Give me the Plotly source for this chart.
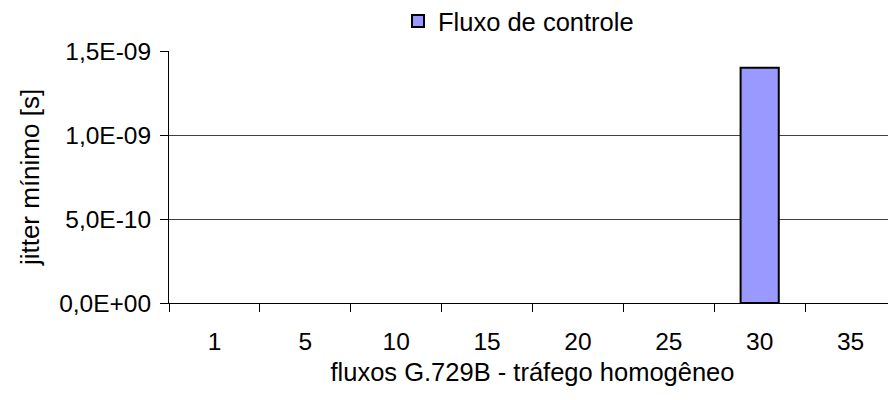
import plotly.graph_objects as go

# data
categories = ["1", "5", "10", "15", "20", "25", "30", "35"]
jitter_min = [0, 0, 0, 0, 0, 0, 1.4e-9, 0]
y_tickvals = [0, 5e-10, 1e-9, 1.5e-9]
y_ticktext = ["0,0E+00", "5,0E-10", "1,0E-09", "1,5E-09"]

FONT = "Liberation Sans, Arial, sans-serif"

# the page body has an 8px margin, so the figure is drawn 8px in from the corner
W, H = 888, 384

fig = go.Figure()
fig.add_trace(go.Bar(
    x=categories,
    # empty categories show nothing in the original, not even an outline
    y=[v if v else None for v in jitter_min],
    name="Fluxo de controle",
    marker=dict(color="#9999FF", line=dict(color="#000000", width=2)),
    width=0.42,
))

fig.update_layout(
    width=W,
    height=H,
    plot_bgcolor="white",
    paper_bgcolor="white",
    font=dict(family=FONT, size=25, color="#000000"),
    margin=dict(l=161, r=0, t=43, b=89),
    showlegend=True,
    legend=dict(
        orientation="h",
        x=390 / W, xref="container", xanchor="left",
        y=1 - 13.5 / H, yref="container", yanchor="middle",
        font=dict(size=25.5),
        itemwidth=30,
    ),
    xaxis=dict(
        type="category",
        range=[-0.5, 7.5],
        automargin=False,
        showline=True, linecolor="#000000", linewidth=1,
        ticks="outside", tickson="boundaries", ticklen=8,
        tickcolor="#000000",
        ticklabelstandoff=17,
        tickfont=dict(size=24.5),
        showgrid=False,
        title=dict(text="fluxos G.729B - tráfego homogêneo", font=dict(size=25.5), standoff=8),
    ),
    yaxis=dict(
        range=[0, 1.5e-9],
        automargin=False,
        tickvals=y_tickvals,
        ticktext=y_ticktext,
        showline=True, linecolor="#000000", linewidth=1,
        ticks="outside", ticklen=8, tickcolor="#000000",
        ticklabelstandoff=4,
        tickfont=dict(size=24.5),
        showgrid=True, gridcolor="#404040", gridwidth=1,
        zeroline=False,
        title=dict(text="jitter mínimo [s]", font=dict(size=26), standoff=12),
    ),
)

fig.write_html("out.html")
